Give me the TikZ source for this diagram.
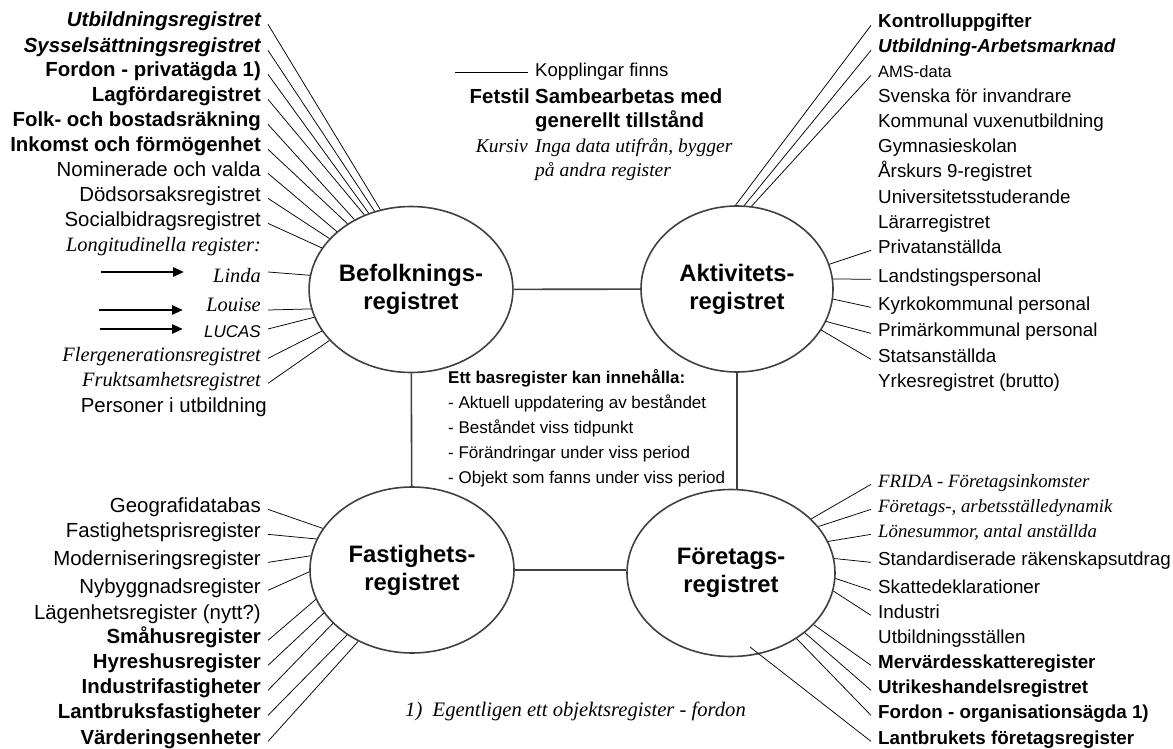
\documentclass[tikz,border=0pt]{standalone}
\usepackage{fontspec}
\setmainfont{Liberation Sans}
\newfontfamily\timesfam{Liberation Serif}
\usetikzlibrary{shapes.geometric,arrows.meta}

\newcommand{\leftsize}{\fontsize{20.4pt}{24pt}\selectfont}
\newcommand{\rightsize}{\fontsize{18.8pt}{24pt}\selectfont}
\newcommand{\tit}{\timesfam\itshape}
\newcommand{\bit}{\bfseries\itshape}

\begin{document}
\begin{tikzpicture}[x=1pt,y=-1pt,
  reg/.style={ellipse,draw=black!75,line width=1.6pt,inner sep=0pt,align=center,
    font=\fontsize{23.8pt}{28pt}\selectfont\bfseries},
  lft/.style={anchor=base east,inner xsep=7pt,inner ysep=0pt,font=\leftsize},
  rgt/.style={anchor=base west,inner xsep=7pt,inner ysep=0pt,font=\rightsize},
  spoke/.style={line width=0.75pt},
  link/.style={draw=black!75,line width=1.6pt},
  bigarrow/.style={line width=2.6pt,-{Triangle[length=11pt,width=9pt]}}]

\path[use as bounding box,fill=white] (0,0) rectangle (1173,749);

% the four base registers
\node[reg,minimum width=200pt,minimum height=166pt] (bef) at (411,289.5) {Befolknings-\\registret};
\node[reg,minimum width=192pt,minimum height=166pt] (akt) at (737,289) {Aktivitets-\\registret};
\node[reg,minimum width=204pt,minimum height=166pt] (fast) at (412,570) {Fastighets-\\registret};
\node[reg,minimum width=208pt,minimum height=167pt] (ftg) at (731,573) {Företags-\\registret};

% links between them
\draw[link] (bef) -- (akt);
\draw[link] (bef) -- (fast);
\draw[link] (akt.south) -- (akt.south |- ftg.north);
\draw[link] (fast.east) -- (fast.east -| ftg.west);

% Befolkningsregistret
\node[lft] (b1) at (268,27) {\bit Utbildningsregistret};
\node[lft] (b2) at (268,53) {\bit Sysselsättningsregistret};
\node[lft] (b3) at (268,77) {\bfseries Fordon - privatägda 1)};
\node[lft] (b4) at (268,102) {\bfseries Lagfördaregistret};
\node[lft] (b5) at (268,127) {\bfseries Folk- och bostadsräkning};
\node[lft] (b6) at (268,152) {\bfseries Inkomst och förmögenhet};
\node[lft] (b7) at (268,176) {Nominerade och valda};
\node[lft] (b8) at (268,201) {Dödsorsaksregistret};
\node[lft] (b9) at (268,226) {Socialbidragsregistret};
\node[lft] (b10) at (268,251) {\tit Longitudinella register:};
\node[lft] (linda) at (268,282) {\tit Linda};
\node[lft] (louise) at (268,311) {\tit Louise};
\node[lft] (lucas) at (268,337) {\fontsize{17pt}{20pt}\selectfont\itshape LUCAS};
\node[lft] (b14) at (268,361) {\tit Flergenerationsregistret};
\node[lft] (b15) at (268,386) {\tit Fruktsamhetsregistret};
\node[lft] (b16) at (274,412) {Personer i utbildning};

\draw[spoke] (b1.mid east) -- (bef.111.5);
\draw[spoke] (b2.mid east) -- (bef.115.6);
\draw[spoke] (b3.mid east) -- (bef.119);
\draw[spoke] (b4.mid east) -- (bef.122.4);
\draw[spoke] (b5.mid east) -- (bef.129.3);
\draw[spoke] (b6.mid east) -- (bef.134.6);
\draw[spoke] (b7.mid east) -- (bef.142.5);
\draw[spoke] (b8.mid east) -- (bef.148.8);
\draw[spoke] (b9.mid east) -- (bef.155.3);

% arrows to the longitudinal registers
\coordinate (la1) at (101,272); \coordinate (la2) at (184,272);
\coordinate (lo1) at (99,310);  \coordinate (lo2) at (183,310);
\coordinate (lu1) at (100,329); \coordinate (lu2) at (183,329);
\draw[bigarrow] (la1) -- (la2);
\draw[bigarrow] (lo1) -- (lo2);
\draw[bigarrow] (lu1) -- (lu2);

\draw[spoke] (linda.east |- la2) -- (bef.172.9);
\draw[spoke] (louise.east |- lo2) -- (bef.191.2);
\draw[spoke] (lucas.east |- lu2) -- (bef.196.6);
\draw[spoke] (b14.mid east) -- (bef.205.4);
\draw[spoke] (b15.mid east) -- (bef.212);

% Aktivitetsregistret
\node[rgt] (a1) at (871,28) {\bfseries Kontrolluppgifter};
\node[rgt] (a2) at (871,53) {\bit Utbildning-Arbetsmarknad};
\node[rgt] (a3) at (871,78) {\fontsize{16.5pt}{20pt}\selectfont AMS-data};
\node[rgt] (a4) at (871,103) {Svenska för invandrare};
\node[rgt] (a5) at (871,128) {Kommunal vuxenutbildning};
\node[rgt] (a6) at (871,153) {Gymnasieskolan};
\node[rgt] (a7) at (871,178) {Årskurs 9-registret};
\node[rgt] (a8) at (871,203) {Universitetsstuderande};
\node[rgt] (a9) at (871,228) {Lärarregistret};
\node[rgt] (a10) at (871,253) {Privatanställda};
\node[rgt] (a11) at (871,282) {Landstingspersonal};
\node[rgt] (a12) at (871,310) {Kyrkokommunal personal};
\node[rgt] (a13) at (871,336) {Primärkommunal personal};
\node[rgt] (a14) at (871,362) {Statsanställda};
\node[rgt] (a15) at (871,387) {Yrkesregistret (brutto)};

\draw[spoke] (a1.mid west) -- (akt.91);
\draw[spoke] (a2.mid west) -- (akt.85.5);
\draw[spoke] (a3.mid west) -- (akt.80.5);
\draw[spoke] (a10.mid west) -- (akt.15.5);
\draw[spoke] (a11.mid west) -- (akt.6.6);
\draw[spoke] (a12.mid west) -- (akt.-6.7);
\draw[spoke] (a13.mid west) -- (akt.-20.8);
\draw[spoke] (a14.mid west) -- (akt.-26.6);

% Fastighetsregistret
\node[lft] (f1) at (268,512) {Geografidatabas};
\node[lft] (f2) at (268,537) {Fastighetsprisregister};
\node[lft] (f3) at (268,565) {Moderniseringsregister};
\node[lft] (f4) at (268,593) {Nybyggnadsregister};
\node[lft] (f5) at (268,619) {Lägenhetsregister (nytt?)};
\node[lft] (f6) at (268,643) {\bfseries Småhusregister};
\node[lft] (f7) at (268,668) {\bfseries Hyreshusregister};
\node[lft] (f8) at (268,693) {\bfseries Industrifastigheter};
\node[lft] (f9) at (268,718) {\bfseries Lantbruksfastigheter};
\node[lft] (f10) at (268,744) {\bfseries Värderingsenheter};

\draw[spoke] (f1.mid east) -- (fast.155);
\draw[spoke] (f2.mid east) -- (fast.162.8);
\draw[spoke] (f3.mid east) -- (fast.172.7);
\draw[spoke] (f4.mid east) -- (fast.181.7);
\draw[spoke] (f6.mid east) -- (fast.197.5);
\draw[spoke] (f7.mid east) -- (fast.206.6);
\draw[spoke] (f8.mid east) -- (fast.214.5);
\draw[spoke] (f9.mid east) -- (fast.225);
\draw[spoke] (f10.mid east) -- (fast.233.5);

% Företagsregistret
\node[rgt] (c1) at (871,487) {\tit FRIDA - Företagsinkomster};
\node[rgt] (c2) at (871,512) {\tit Företags-, arbetsställedynamik};
\node[rgt] (c3) at (871,537) {\tit Lönesummor, antal anställda};
\node[rgt] (c4) at (871,565) {Standardiserade räkenskapsutdrag};
\node[rgt] (c5) at (871,593) {Skattedeklarationer};
\node[rgt] (c6) at (871,618) {Industri};
\node[rgt] (c7) at (871,643) {Utbildningsställen};
\node[rgt] (c8) at (871,668) {\bfseries Mervärdesskatteregister};
\node[rgt] (c9) at (871,693) {\bfseries Utrikeshandelsregistret};
\node[rgt] (c10) at (871,718) {\bfseries Fordon - organisationsägda 1)};
\node[rgt] (c11) at (871,744) {\bfseries Lantbrukets företagsregister};
\coordinate (lbend) at (750,647);

\draw[spoke] (c1.mid west) -- (ftg.34.3);
\draw[spoke] (c2.mid west) -- (ftg.28.3);
\draw[spoke] (c3.mid west) -- (ftg.18);
\draw[spoke] (c4.mid west) -- (ftg.8.2);
\draw[spoke] (c5.mid west) -- (ftg.-3.9);
\draw[spoke] (c6.mid west) -- (ftg.-10.9);
\draw[spoke] (c8.mid west) -- (ftg.-32.2);
\draw[spoke] (c9.mid west) -- (ftg.-39.5);
\draw[spoke] (c10.mid west) -- (ftg.-45.4);
\draw[spoke] (c11.mid west) -- (lbend);

% legend
\coordinate (leg) at (455,72);
\node[anchor=base west,inner xsep=7pt,inner ysep=0pt,font=\fontsize{18.6pt}{24pt}\selectfont] (kopp) at (528,77) {Kopplingar finns};
\draw[spoke] (leg) -- (leg -| kopp.west);
\node[anchor=base east,inner sep=0pt,font=\leftsize\bfseries] (fet) at (530,104) {Fetstil};
\node[anchor=base west,inner sep=0pt,font=\leftsize\bfseries] (fet1) at (535,104) {Sambearbetas med};
\node[anchor=base west,inner sep=0pt,font=\leftsize\bfseries] (fet2) at (535,128) {generellt tillstånd};
\node[anchor=base east,inner sep=0pt,font=\fontsize{19.5pt}{24pt}\selectfont\tit] (kur) at (528,153) {Kursiv};
\node[anchor=base west,inner sep=0pt,font=\fontsize{19.5pt}{24pt}\selectfont\tit] (kur1) at (535,153) {Inga data utifrån, bygger};
\node[anchor=base west,inner sep=0pt,font=\fontsize{19.5pt}{24pt}\selectfont\tit] (kur2) at (535,177) {på andra register};

% what a base register can hold
\node[anchor=base west,inner sep=0pt,font=\fontsize{17pt}{20pt}\selectfont\bfseries] (bas) at (448,383) {Ett basregister kan innehålla:};
\node[anchor=base west,inner sep=0pt,font=\fontsize{17pt}{20pt}\selectfont] (bas1) at (448,408) {- Aktuell uppdatering av beståndet};
\node[anchor=base west,inner sep=0pt,font=\fontsize{17pt}{20pt}\selectfont] (bas2) at (448,433) {- Beståndet viss tidpunkt};
\node[anchor=base west,inner sep=0pt,font=\fontsize{17pt}{20pt}\selectfont] (bas3) at (448,458) {- Förändringar under viss period};
\node[anchor=base west,inner sep=0pt,font=\fontsize{17pt}{20pt}\selectfont] (bas4) at (448,483) {- Objekt som fanns under viss period};

% footnote
\node[anchor=base west,inner sep=0pt,font=\fontsize{20.6pt}{24pt}\selectfont\tit] (fot) at (405,716) {1)\ \ Egentligen ett objektsregister - fordon};

\end{tikzpicture}
\end{document}
